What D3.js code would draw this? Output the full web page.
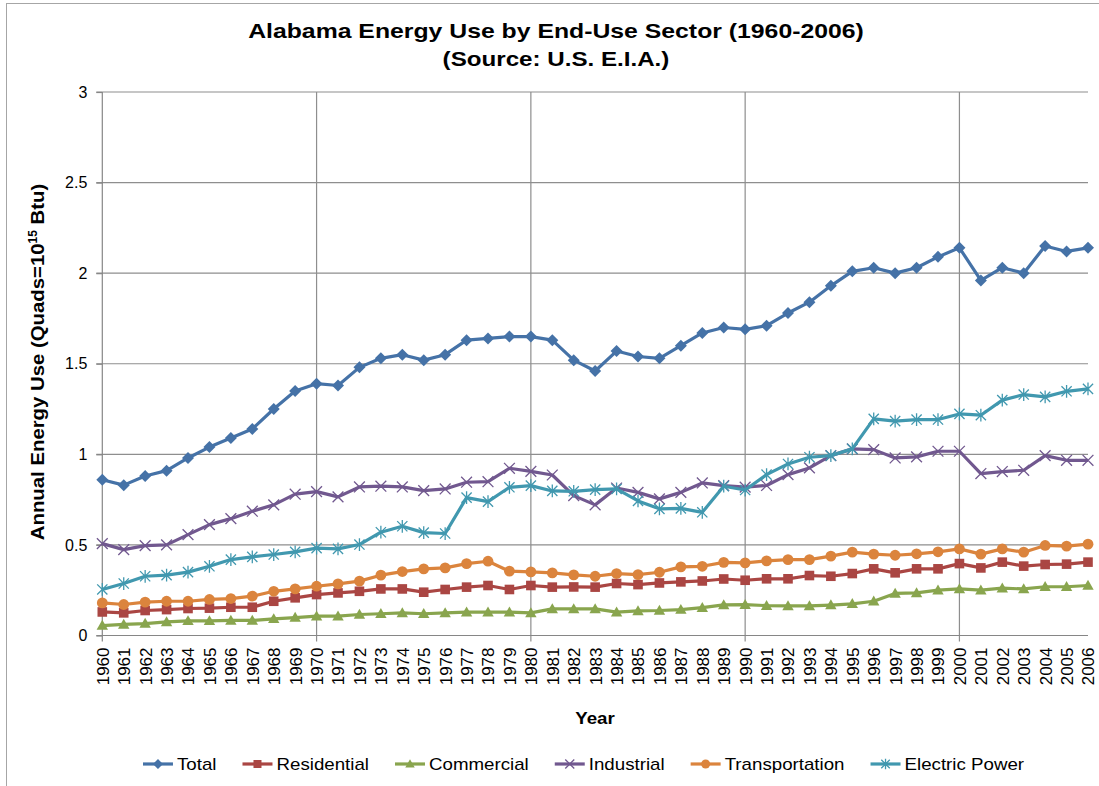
<!DOCTYPE html>
<html>
<head>
<meta charset="utf-8">
<script src="https://cdn.jsdelivr.net/npm/d3@7"></script>
<style>
    html, body { margin: 0; padding: 0; background: #fff; }
    svg { display: block; font-family: "Liberation Sans", Arial, sans-serif; }
</style>
</head>
<body>
<div id="chart"></div>
<script>
// =============================================================================
// Data
// =============================================================================
const years = d3.range(1960, 2007);

const total = [
    0.86, 0.83, 0.88, 0.91, 0.98, 1.04, 1.09, 1.14, 1.25, 1.35,
    1.39, 1.38, 1.48, 1.53, 1.55, 1.52, 1.55, 1.63, 1.64, 1.65,
    1.65, 1.63, 1.52, 1.46, 1.57, 1.54, 1.53, 1.60, 1.67, 1.70,
    1.69, 1.71, 1.78, 1.84, 1.93, 2.01, 2.03, 2.00, 2.03, 2.09,
    2.14, 1.96, 2.03, 2.00, 2.15, 2.12, 2.14
];
const residential = [
    0.13, 0.125, 0.138, 0.143, 0.149, 0.151, 0.156, 0.156, 0.189, 0.208,
    0.226, 0.235, 0.244, 0.257, 0.257, 0.239, 0.254, 0.267, 0.276, 0.254,
    0.276, 0.267, 0.268, 0.267, 0.287, 0.281, 0.29, 0.296, 0.301, 0.312,
    0.305, 0.313, 0.313, 0.331, 0.327, 0.342, 0.368, 0.346, 0.368, 0.368,
    0.397, 0.373, 0.405, 0.383, 0.392, 0.394, 0.405
];
const commercial = [
    0.055, 0.061, 0.066, 0.075, 0.081, 0.081, 0.083, 0.083, 0.092, 0.099,
    0.107, 0.107, 0.116, 0.12, 0.125, 0.12, 0.125, 0.129, 0.129, 0.129,
    0.125, 0.147, 0.147, 0.147, 0.129, 0.136, 0.138, 0.143, 0.154, 0.169,
    0.17, 0.165, 0.163, 0.163, 0.168, 0.175, 0.189, 0.232, 0.235, 0.25,
    0.257, 0.25, 0.261, 0.257, 0.269, 0.269, 0.276
];
const industrial = [
    0.507, 0.474, 0.496, 0.50, 0.557, 0.612, 0.645, 0.686, 0.721, 0.78,
    0.794, 0.765, 0.82, 0.824, 0.82, 0.80, 0.809, 0.846, 0.849, 0.923,
    0.906, 0.886, 0.772, 0.721, 0.814, 0.79, 0.754, 0.79, 0.842, 0.827,
    0.819, 0.828, 0.888, 0.925, 0.993, 1.03, 1.026, 0.98, 0.986, 1.017,
    1.017, 0.894, 0.905, 0.912, 0.993, 0.967, 0.967
];
const transportation = [
    0.18, 0.171, 0.184, 0.189, 0.189, 0.199, 0.204, 0.217, 0.244, 0.257,
    0.272, 0.285, 0.30, 0.333, 0.353, 0.368, 0.373, 0.397, 0.41, 0.355,
    0.351, 0.346, 0.335, 0.327, 0.342, 0.336, 0.349, 0.379, 0.382, 0.404,
    0.401, 0.412, 0.419, 0.419, 0.438, 0.46, 0.449, 0.443, 0.451, 0.462,
    0.478, 0.449, 0.478, 0.46, 0.497, 0.493, 0.504
];
const electricPower = [
    0.254, 0.287, 0.327, 0.333, 0.35, 0.382, 0.419, 0.434, 0.447, 0.462,
    0.482, 0.478, 0.502, 0.57, 0.603, 0.568, 0.563, 0.761, 0.739, 0.818,
    0.827, 0.798, 0.796, 0.805, 0.809, 0.743, 0.699, 0.702, 0.68, 0.824,
    0.803, 0.888, 0.947, 0.984, 0.993, 1.03, 1.196, 1.183, 1.192, 1.192,
    1.223, 1.216, 1.299, 1.33, 1.317, 1.348, 1.361
];

const seriesNames = ['Total', 'Residential', 'Commercial', 'Industrial', 'Transportation', 'Electric Power'];
const seriesValues = [total, residential, commercial, industrial, transportation, electricPower];
const yTicks = [0, 0.5, 1, 1.5, 2, 2.5, 3];
const gridYears = [1960, 1970, 1980, 1990, 2000];

// =============================================================================
// Visual Configuration
// =============================================================================
const WIDTH = 1099;
const HEIGHT = 786;
const COLORS = ['#4572A7', '#AA4643', '#89A54E', '#71588F', '#DB843D', '#4198AF'];
const MARKERS = ['diamond', 'square', 'triangle', 'x', 'circle', 'star'];
const LINE_WIDTH = 3.2;
const GRID_COLOR = '#8e8e8e';
const AXIS_COLOR = '#868686';
const TEXT_STRETCH = 1.1; // reference text runs a little wider than Liberation Sans

const plot = { left: 102.3, right: 1088, top: 92, bottom: 635.5 };

const svg = d3.select('#chart')
    .append('svg')
    .attr('width', WIDTH)
    .attr('height', HEIGHT);

// Chart frame
svg.append('rect')
    .attr('x', 6.5).attr('y', 3.5)
    .attr('width', WIDTH).attr('height', HEIGHT)
    .attr('fill', '#fff')
    .attr('stroke', '#a6a6a6')
    .attr('stroke-width', 1);

const x = d3.scaleLinear().domain([1960, 2006]).range([plot.left, plot.right]);
const y = d3.scaleLinear().domain([0, 3]).range([plot.bottom, plot.top]);

// Gridlines
svg.append('g')
    .selectAll('line')
    .data(yTicks.filter(d => d > 0))
    .enter().append('line')
    .attr('x1', plot.left - 6).attr('x2', plot.right)
    .attr('y1', d => y(d)).attr('y2', d => y(d))
    .attr('stroke', GRID_COLOR).attr('stroke-width', 1.2);

svg.append('g')
    .selectAll('line')
    .data(gridYears.filter(d => d > 1960))
    .enter().append('line')
    .attr('x1', d => x(d)).attr('x2', d => x(d))
    .attr('y1', plot.top).attr('y2', plot.bottom + 6)
    .attr('stroke', GRID_COLOR).attr('stroke-width', 1.2);

// Axes
const yAxis = d3.axisLeft(y).tickValues(yTicks).tickSize(6).tickPadding(9)
    .tickFormat(d => d3.format('')(d));
const yAxisG = svg.append('g')
    .attr('transform', `translate(${plot.left},0)`)
    .call(yAxis);

const xAxis = d3.axisBottom(x).tickValues(years).tickSize(0).tickFormat(d3.format('d'));
const xAxisG = svg.append('g')
    .attr('transform', `translate(0,${plot.bottom})`)
    .call(xAxis);

[yAxisG, xAxisG].forEach(g => {
    g.select('.domain').attr('stroke', AXIS_COLOR).attr('stroke-width', 1.2);
    g.selectAll('.tick line').attr('stroke', AXIS_COLOR).attr('stroke-width', 1.2);
    g.selectAll('text').attr('fill', '#000').style('font-size', '16px')
        .style('font-family', '"Liberation Sans", Arial, sans-serif');
});
xAxisG.select('.domain').attr('d', `M${plot.left - 6},0H${plot.right}`);
yAxisG.select('.domain').attr('d', `M0,${plot.top}V${plot.bottom + 6}`);

xAxisG.selectAll('.tick text')
    .attr('transform', 'rotate(-90)')
    .attr('text-anchor', 'end')
    .attr('x', -12)
    .attr('y', 0)
    .attr('dy', '0.35em')
    .style('font-size', '17px');

// Marker drawing
function drawMarker(sel, type, color, s) {
    if (type === 'diamond') {
        sel.append('path').attr('d', `M0,${-s}L${s},0L0,${s}L${-s},0Z`).attr('fill', color);
    } else if (type === 'square') {
        const h = s * 0.8;
        sel.append('rect').attr('x', -h).attr('y', -h).attr('width', 2 * h).attr('height', 2 * h).attr('fill', color);
    } else if (type === 'triangle') {
        const h = s * 0.95;
        sel.append('path').attr('d', `M0,${-h}L${h},${h * 0.75}L${-h},${h * 0.75}Z`).attr('fill', color);
    } else if (type === 'circle') {
        sel.append('circle').attr('r', s * 0.9).attr('fill', color);
    } else if (type === 'x') {
        const h = s * 0.9;
        sel.append('path').attr('d', `M${-h},${-h}L${h},${h}M${-h},${h}L${h},${-h}`)
            .attr('stroke', color).attr('stroke-width', 1.3).attr('fill', 'none');
    } else if (type === 'star') {
        const h = s * 0.85;
        sel.append('path').attr('d', `M${-h},${-h}L${h},${h}M${-h},${h}L${h},${-h}M0,${-h * 1.25}V${h * 1.25}`)
            .attr('stroke', color).attr('stroke-width', 1.3).attr('fill', 'none');
    }
}

const line = d3.line()
    .x((d, i) => x(years[i]))
    .y(d => y(d));

seriesValues.forEach((values, k) => {
    const g = svg.append('g');
    g.append('path')
        .attr('d', line(values))
        .attr('fill', 'none')
        .attr('stroke', COLORS[k])
        .attr('stroke-width', LINE_WIDTH)
        .attr('stroke-linejoin', 'round');

    g.selectAll('g.marker')
        .data(values)
        .enter().append('g')
        .attr('class', 'marker')
        .attr('transform', (d, i) => `translate(${x(years[i])},${y(d)})`)
        .each(function() { drawMarker(d3.select(this), MARKERS[k], COLORS[k], 6); });
});

// Stretch a text element to a wider run, keeping its height
function stretch(sel, factor) {
    const len = sel.node().getComputedTextLength();
    sel.attr('textLength', len * factor).attr('lengthAdjust', 'spacingAndGlyphs');
}

// Titles
svg.append('text')
    .attr('x', 556).attr('y', 38)
    .attr('text-anchor', 'middle')
    .style('font-size', '21px')
    .style('font-weight', 'bold')
    .text('Alabama Energy Use by End-Use Sector (1960-2006)')
    .call(stretch, 1.18);
svg.append('text')
    .attr('x', 556).attr('y', 66)
    .attr('text-anchor', 'middle')
    .style('font-size', '21px')
    .style('font-weight', 'bold')
    .text('(Source: U.S. E.I.A.)')
    .call(stretch, 1.15);

svg.append('text')
    .attr('x', 595).attr('y', 724)
    .attr('text-anchor', 'middle')
    .style('font-size', '17px')
    .style('font-weight', 'bold')
    .text('Year')
    .call(stretch, 1.1);

const yTitle = svg.append('text')
    .attr('transform', 'translate(44,362) rotate(-90)')
    .attr('text-anchor', 'middle')
    .style('font-size', '18px')
    .style('font-weight', 'bold');
yTitle.append('tspan').text('Annual Energy Use (Quads=10')
    .call(stretch, 1.13);
yTitle.append('tspan').attr('dy', -7).style('font-size', '12px').text('15');
yTitle.append('tspan').attr('dy', 7).text(' Btu)')
    .call(stretch, 1.13);

// Legend
const legend = svg.append('g');
const items = seriesNames.map((name, k) => {
    const g = legend.append('g');
    g.append('line').attr('x1', 0).attr('x2', 30).attr('y1', 0).attr('y2', 0)
        .attr('stroke', COLORS[k]).attr('stroke-width', LINE_WIDTH);
    const m = g.append('g').attr('transform', 'translate(15,0)');
    drawMarker(m, MARKERS[k], COLORS[k], 5);
    const t = g.append('text').attr('x', 34).attr('dy', '0.35em')
        .style('font-size', '17px').text(name);
    const w = t.node().getComputedTextLength() * TEXT_STRETCH;
    t.attr('textLength', w).attr('lengthAdjust', 'spacingAndGlyphs');
    return { g, w: 34 + w };
});
const GAP = 26;
const legendWidth = d3.sum(items, d => d.w) + GAP * (items.length - 1);
let lx = 583.5 - legendWidth / 2;
items.forEach(it => {
    it.g.attr('transform', `translate(${lx},764)`);
    lx += it.w + GAP;
});
</script>
</body>
</html>
